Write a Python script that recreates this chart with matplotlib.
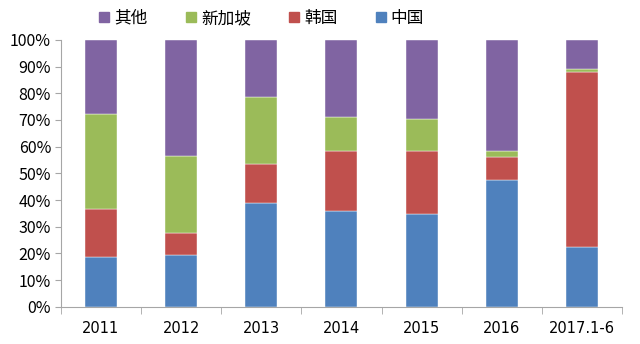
import matplotlib
matplotlib.use("Agg")
import matplotlib.pyplot as plt
import numpy as np
from matplotlib.ticker import PercentFormatter
from matplotlib.lines import Line2D

plt.rcParams['font.family'] = ['Noto Sans CJK SC', 'DejaVu Sans']

# 数据（百分比，自下而上堆叠）
categories = ["2011", "2012", "2013", "2014", "2015", "2016", "2017.1-6"]
china = [18.5, 19.5, 38.8, 35.8, 34.9, 47.6, 22.5]
korea = [18.2, 8.0, 14.6, 22.7, 23.6, 8.5, 65.6]
singapore = [35.6, 29.1, 25.3, 12.7, 11.8, 2.4, 0.9]
other = [27.7, 43.4, 21.3, 28.8, 29.7, 41.5, 11.0]

series = [("中国", china, "#4F81BD"),
          ("韩国", korea, "#C0504D"),
          ("新加坡", singapore, "#9BBB59"),
          ("其他", other, "#8064A2")]

fig = plt.figure(figsize=(6.4, 3.44), dpi=100)
ax = fig.add_axes([0.095, 0.108, 0.877, 0.776])

x = np.arange(len(categories))
bottom = np.zeros(len(categories))
for name, vals, color in series:
    ax.bar(x, vals, width=0.4, bottom=bottom, color=color,
           edgecolor="white", linewidth=0.3)
    bottom += np.array(vals)

ax.set_xlim(-0.5, len(categories) - 0.5)
ax.set_ylim(0, 100)
ax.set_yticks(np.arange(0, 101, 10))
ax.yaxis.set_major_formatter(PercentFormatter(decimals=0))
ax.set_xticks(x)
ax.set_xticklabels(categories, family="DejaVu Sans")
ax.set_xticks(np.arange(-0.5, len(categories), 1), minor=True)
ax.tick_params(axis="x", which="major", length=0, pad=10, labelsize=10.5)
ax.tick_params(axis="x", which="minor", length=5, color="#A6A6A6")
ax.tick_params(axis="y", length=4, color="#A6A6A6", labelsize=11.5, pad=3)

for s in ["top", "right"]:
    ax.spines[s].set_visible(False)
for s in ["left", "bottom"]:
    ax.spines[s].set_color("#A6A6A6")

# 图例（顺序与原图一致）
handles = [Line2D([], [], marker="s", linestyle="none", markersize=7,
                  color=c, label=n) for n, _, c in series[::-1]]
fig.legend(handles=handles, loc="upper center", bbox_to_anchor=(0.405, 1.015),
           ncol=4, frameon=False, fontsize=12, handletextpad=0.0,
           columnspacing=2.0, handlelength=1.2)

fig.savefig("out.png", dpi=100)
